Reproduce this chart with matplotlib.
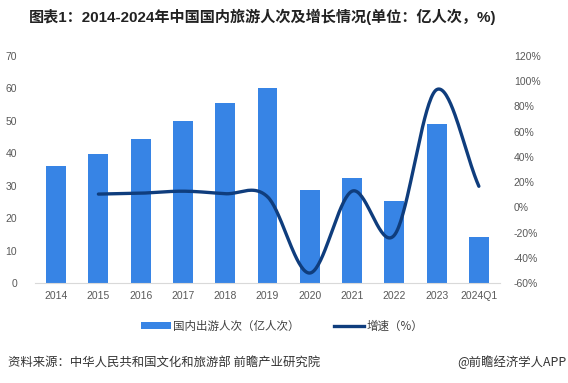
import matplotlib
matplotlib.use("Agg")
import matplotlib.pyplot as plt
import numpy as np
from matplotlib.patches import Patch
from matplotlib.lines import Line2D

plt.rcParams['font.family'] = ['Liberation Sans', 'Noto Sans CJK SC', 'DejaVu Sans']

categories = ["2014", "2015", "2016", "2017", "2018", "2019", "2020", "2021", "2022", "2023", "2024Q1"]
trips = [36.11, 39.90, 44.35, 50.01, 55.39, 60.06, 28.79, 32.46, 25.30, 48.91, 14.19]
growth = [None, 10.5, 11.2, 12.8, 10.8, 8.4, -52.1, 12.8, -22.1, 93.3, 16.7]
left_ticks = [0, 10, 20, 30, 40, 50, 60, 70]
right_ticks = [-60, -40, -20, 0, 20, 40, 60, 80, 100, 120]

bar_color = "#3784E5"
line_color = "#0F3D7D"
tick_color = "#595959"

fig = plt.figure(figsize=(5.68, 3.83), dpi=100)
ax = fig.add_axes([35/568, 1-283/383, 465/568, 227/383])
x = np.arange(len(categories))
ax.bar(x, trips, width=0.47, color=bar_color, zorder=2)
ax.set_xlim(-0.5, len(categories)-0.5)
ax.set_ylim(0, 70)
ax.set_yticks(left_ticks)
ax.set_xticks(x)
ax.set_xticklabels(categories)
for s in ['top', 'right', 'left']:
    ax.spines[s].set_visible(False)
ax.spines['bottom'].set_color("#D9D9D9")
ax.tick_params(axis='both', length=0, labelsize=7.5, colors=tick_color)
ax.tick_params(axis='x', pad=6)
ax.tick_params(axis='y', pad=13)

ax2 = ax.twinx()
ax2.set_ylim(-60, 120)
ax2.set_yticks(right_ticks)
ax2.set_yticklabels([f"{v}%" for v in right_ticks])
for s in ax2.spines.values():
    s.set_visible(False)
ax2.tick_params(axis='y', length=0, labelsize=7.5, colors=tick_color, pad=10)

# smooth curve (Catmull-Rom through the data points, like a smoothed line chart)
gx = np.array([i for i, g in enumerate(growth) if g is not None], dtype=float)
gy = np.array([g for g in growth if g is not None], dtype=float)
px = np.concatenate([[2*gx[0]-gx[1]], gx, [2*gx[-1]-gx[-2]]])
py = np.concatenate([[2*gy[0]-gy[1]], gy, [2*gy[-1]-gy[-2]]])
sx, sy = [], []
t = np.linspace(0, 1, 40)
for i in range(1, len(px)-2):
    p0, p1, p2, p3 = [np.array([px[j], py[j]]) for j in (i-1, i, i+1, i+2)]
    c1 = p1 + (p2 - p0) / 6
    c2 = p2 - (p3 - p1) / 6
    pts = ((1-t)**3)[:, None]*p1 + (3*(1-t)**2*t)[:, None]*c1 + (3*(1-t)*t**2)[:, None]*c2 + (t**3)[:, None]*p2
    sx.extend(pts[:, 0]); sy.extend(pts[:, 1])
ax2.plot(sx, sy, color=line_color, lw=2.4, solid_capstyle='round', zorder=3)

fig.text(263/568, 1-17/383, "图表1：2014-2024年中国国内旅游人次及增长情况(单位：亿人次，%)",
         ha='center', va='center', fontsize=10.9, fontweight='bold', color="#222222",
         family=['Liberation Sans', 'Noto Sans CJK SC'])

handles = [Patch(facecolor=bar_color, edgecolor='none'),
           Line2D([0], [0], color=line_color, lw=2.4)]
fig.legend(handles, ["国内出游人次（亿人次）", "增速（%）"], loc='center',
           bbox_to_anchor=(282/568, 1-326/383), ncol=2, frameon=False,
           handlelength=2.6, handleheight=0.6, columnspacing=3.0,
           handletextpad=0.2, labelcolor="#404040",
           prop={'family': ['Noto Sans CJK SC'], 'size': 8.3})

fig.text(8/568, 1-362/383, "资料来源：中华人民共和国文化和旅游部 前瞻产业研究院",
         ha='left', va='center', fontsize=8.9, color="#333333",
         family=['Noto Sans CJK SC'])
fig.text(566/568, 1-362/383, "@前瞻经济学人APP", ha='right', va='center',
         fontsize=8.9, color="#333333", family=['Noto Sans CJK SC', 'Liberation Sans'])

fig.savefig("out.png", dpi=100)
